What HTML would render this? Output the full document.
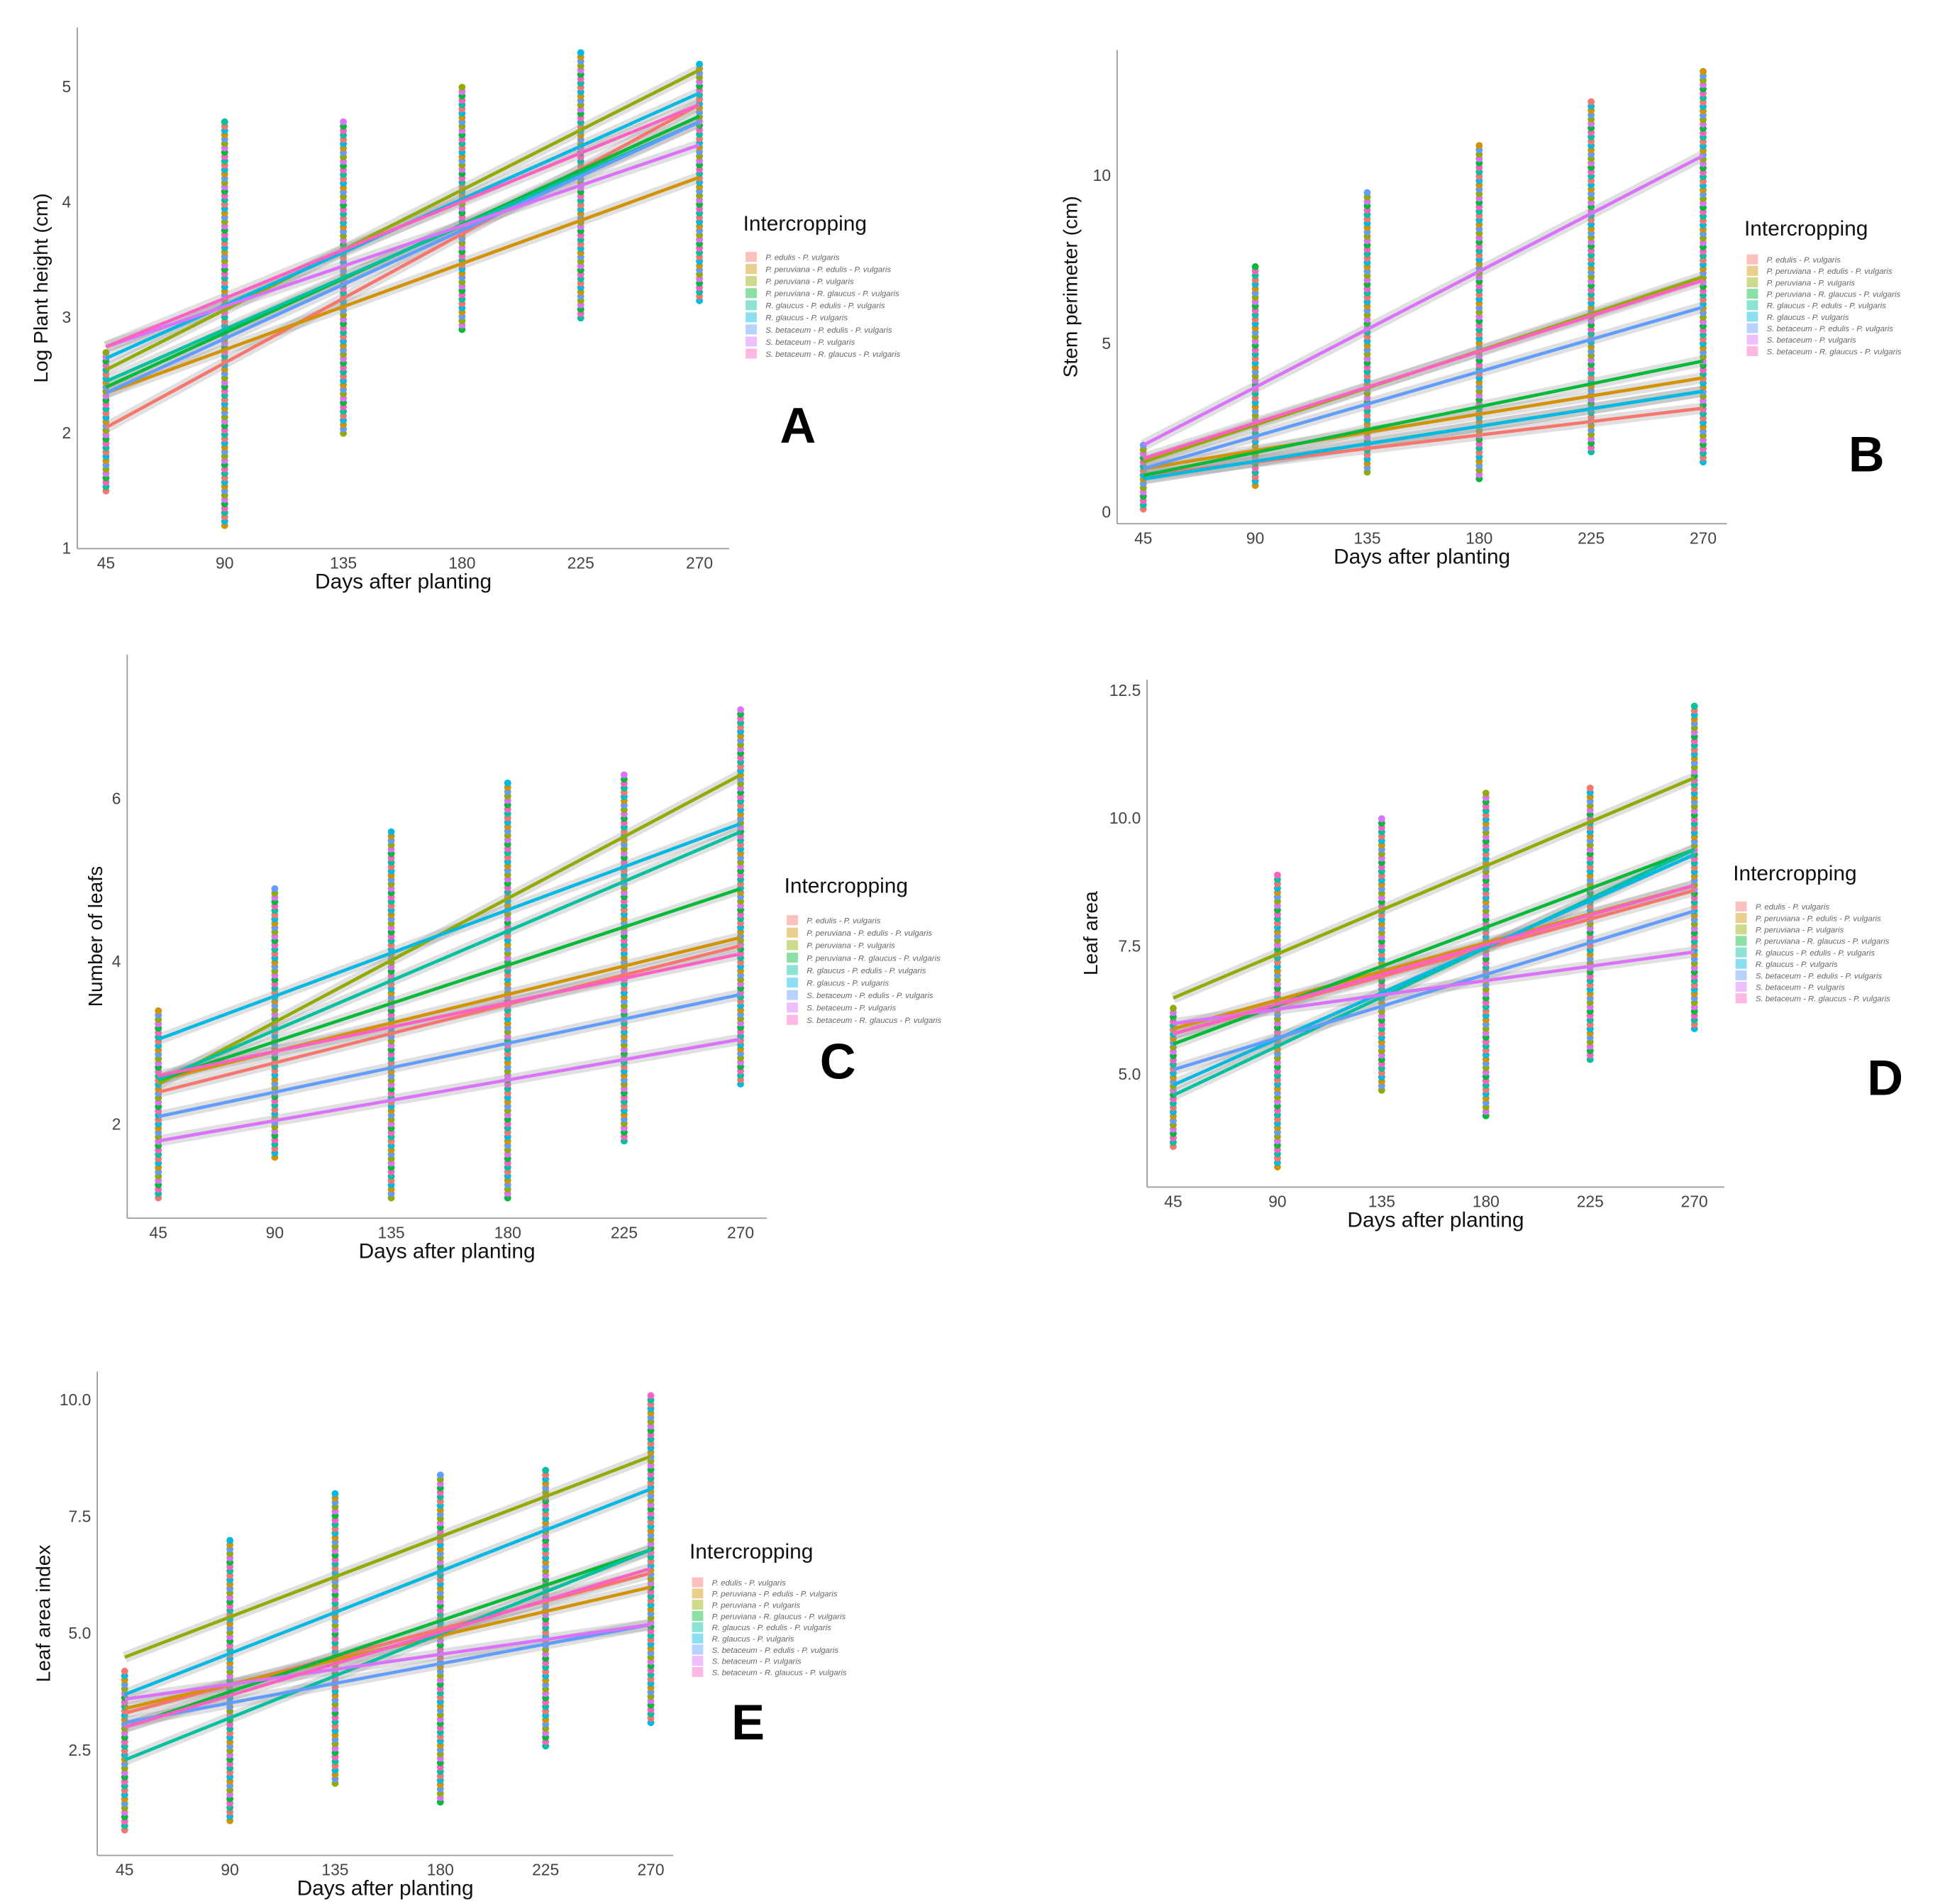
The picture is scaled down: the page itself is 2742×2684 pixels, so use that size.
<!DOCTYPE html>
<html><head><meta charset="utf-8"><style>
html,body{margin:0;padding:0;background:#fff;}
svg{display:block;font-family:"Liberation Sans",sans-serif;}
</style></head><body>
<svg id="fig" width="2742" height="2684" viewBox="0 0 1560 1527" xmlns="http://www.w3.org/2000/svg"></svg>
<script>
const colors=["#F8766D","#D39200","#93AA00","#00BA38","#00C19F","#00B9E3","#619CFF","#DB72FB","#FF61C3"];
const seriesNames=["P. edulis - P. vulgaris","P. peruviana - P. edulis - P. vulgaris","P. peruviana - P. vulgaris","P. peruviana - R. glaucus - P. vulgaris","R. glaucus - P. edulis - P. vulgaris","R. glaucus - P. vulgaris","S. betaceum - P. edulis - P. vulgaris","S. betaceum - P. vulgaris","S. betaceum - R. glaucus - P. vulgaris"];
const days=[45,90,135,180,225,270];
// Panel A
const aStart=[2.05,2.35,2.55,2.4,2.45,2.65,2.35,2.75,2.75];
const aEnd=[4.85,4.22,5.15,4.75,4.7,4.95,4.7,4.5,4.85];
const aColMin=[1.5,1.2,2.0,2.9,3.0,3.15];
const aColMax=[2.7,4.7,4.7,5.0,5.3,5.2];
const aYTicks=[1,2,3,4,5];
// Panel B
const bStart=[1.1,1.3,1.5,1.1,1.0,1.0,1.3,2.0,1.6];
const bEnd=[3.1,4.0,7.0,4.5,3.6,3.6,6.1,10.6,6.9];
const bColMin=[0.1,0.8,1.2,1.0,1.8,1.5];
const bColMax=[2.0,7.3,9.5,10.9,12.2,13.1];
const bYTicks=[0,5,10];
// Panel C
const cStart=[2.4,2.55,2.5,2.55,2.55,3.05,2.1,1.8,2.6];
const cEnd=[4.2,4.3,6.3,4.9,5.6,5.7,3.6,3.05,4.1];
const cColMin=[1.1,1.6,1.1,1.1,1.8,2.5];
const cColMax=[3.4,4.9,5.6,6.2,6.3,7.1];
const cYTicks=[2,4,6];
// Panel D
const dStart=[5.8,5.9,6.5,5.6,4.6,4.8,5.1,6.0,5.8];
const dEnd=[8.6,8.7,10.8,9.4,9.4,9.3,8.2,7.4,8.7];
const dColMin=[3.6,3.2,4.7,4.2,5.3,5.9];
const dColMax=[6.3,8.9,10.0,10.5,10.6,12.2];
const dYTicks=[5,7.5,10,12.5];
// Panel E
const eStart=[3.3,3.4,4.5,3.0,2.3,3.7,3.1,3.6,3.0];
const eEnd=[6.3,6.0,8.8,6.8,6.8,8.1,5.2,5.2,6.4];
const eColMin=[0.8,1.0,1.8,1.4,2.6,3.1];
const eColMax=[4.2,7.0,8.0,8.4,8.5,10.1];
const eYTicks=[2.5,5.0,7.5,10.0];

const NS="http://www.w3.org/2000/svg";
const svg=document.getElementById('fig');
function mk(tag,attrs,parent){const e=document.createElementNS(NS,tag);for(const k in attrs)e.setAttribute(k,attrs[k]);(parent||svg).appendChild(e);return e;}

const panels=[
 {id:"a",letter:"A",start:aStart,end:aEnd,cmin:aColMin,cmax:aColMax,yt:aYTicks,dec:0,
  ax:62,ay:440,top:22,right:585,x45:85,x270:561,v0:1,p0:440,v1:5,p1:70,ylab:"Log Plant height (cm)",ylx:38,
  legX:596,legY:185,entY0:206,entDy:9.7,lx:640,ly:355},
 {id:"b",letter:"B",start:bStart,end:bEnd,cmin:bColMin,cmax:bColMax,yt:bYTicks,dec:0,
  ax:896,ay:420,top:40,right:1385,x45:917,x270:1366,v0:0,p0:411,v1:10,p1:141,ylab:"Stem perimeter (cm)",ylx:864,
  legX:1399,legY:189,entY0:208,entDy:9.2,lx:1497,ly:378},
 {id:"c",letter:"C",start:cStart,end:cEnd,cmin:cColMin,cmax:cColMax,yt:cYTicks,dec:0,
  ax:102,ay:977,top:525,right:615,x45:127,x270:594,v0:2,p0:902,v1:6,p1:641,ylab:"Number of leafs",ylx:82,
  legX:629,legY:716,entY0:738,entDy:10,lx:672,ly:865},
 {id:"d",letter:"D",start:dStart,end:dEnd,cmin:dColMin,cmax:dColMax,yt:dYTicks,dec:1,
  ax:920,ay:952,top:545,right:1383,x45:941,x270:1359,v0:5,p0:862,v1:12.5,p1:554,ylab:"Leaf area",ylx:880,
  legX:1390,legY:706,entY0:727,entDy:9.2,lx:1512,ly:878},
 {id:"e",letter:"E",start:eStart,end:eEnd,cmin:eColMin,cmax:eColMax,yt:eYTicks,dec:1,
  ax:78,ay:1488,top:1100,right:540,x45:100,x270:522,v0:2.5,p0:1404,v1:10,p1:1123,ylab:"Leaf area index",ylx:40,
  legX:553,legY:1250,entY0:1269,entDy:9,lx:600,ly:1395}
];

panels.forEach(P=>{
 const g=mk('g',{});
 
 
 const X=d=>P.x45+(d-45)*(P.x270-P.x45)/225;
 const Y=v=>P.p0+(v-P.v0)*(P.p1-P.p0)/(P.v1-P.v0);
 const ya=mk('line',{x1:P.ax,y1:P.top,x2:P.ax,y2:P.ay,stroke:"#9a9a9a","stroke-width":1},g);
 
 
 const xa=mk('line',{x1:P.ax,y1:P.ay,x2:P.right,y2:P.ay,stroke:"#9a9a9a","stroke-width":1},g);
 
 
 days.forEach(d=>{
  const t=mk('text',{x:X(d),y:P.ay+16,"font-size":13,fill:"#444","text-anchor":"middle"},g);
  t.textContent=d;
  
  
 });
 P.yt.forEach(v=>{
  const t=mk('text',{x:P.ax-5,y:Y(v)+4,"font-size":13,fill:"#444","text-anchor":"end"},g);
  t.textContent=P.dec?v.toFixed(1):v;
  
  
 });
 const xt=mk('text',{x:(P.ax+P.right)/2,y:P.ay+32,"font-size":17,fill:"#111","text-anchor":"middle"},g);
 xt.textContent="Days after planting";
 
 
 const yc=(P.top+P.ay)/2;
 const yl=mk('text',{x:P.ylx,y:yc,"font-size":16,fill:"#111","text-anchor":"middle",transform:`rotate(-90 ${P.ylx} ${yc})`},g);
 yl.textContent=P.ylab;
 
 
 days.forEach((d,i)=>{
  const y0=Y(P.cmin[i]),y1=Y(P.cmax[i]);
  const n=Math.max(2,Math.round(Math.abs(y0-y1)/3.5));
  for(let k=0;k<=n;k++){
   const c=mk('circle',{cx:X(d),cy:y0+(y1-y0)*k/n,r:2.8,fill:colors[(k*4+i)%9]},g);
   
   
  }
 });
 P.start.forEach((s,i)=>{
  const b=mk('line',{x1:X(45),y1:Y(s),x2:X(270),y2:Y(P.end[i]),stroke:"#999","stroke-opacity":0.3,"stroke-width":9},g);
  
  
 });
 P.start.forEach((s,i)=>{
  const l=mk('line',{x1:X(45),y1:Y(s),x2:X(270),y2:Y(P.end[i]),stroke:colors[i],"stroke-width":2.6},g);
  
  
 });
 const lt=mk('text',{x:P.legX,y:P.legY,"font-size":17,fill:"#111"},g);
 lt.textContent="Intercropping";
 
 
 seriesNames.forEach((nm,i)=>{
  const y=P.entY0+i*P.entDy;
  const r=mk('rect',{x:P.legX+2,y:y-4,width:9,height:8,fill:colors[i],"fill-opacity":0.45},g);
  
  
  const t=mk('text',{x:P.legX+18,y:y+2.5,"font-size":6.5,fill:"#666","font-style":"italic"},g);
  t.textContent=nm;
  
  
 });
 const L=mk('text',{x:P.lx,y:P.ly,"font-size":40,"font-weight":"bold",fill:"#000","text-anchor":"middle"},g);
 L.textContent=P.letter;
 
 
});
</script>
</body></html>
